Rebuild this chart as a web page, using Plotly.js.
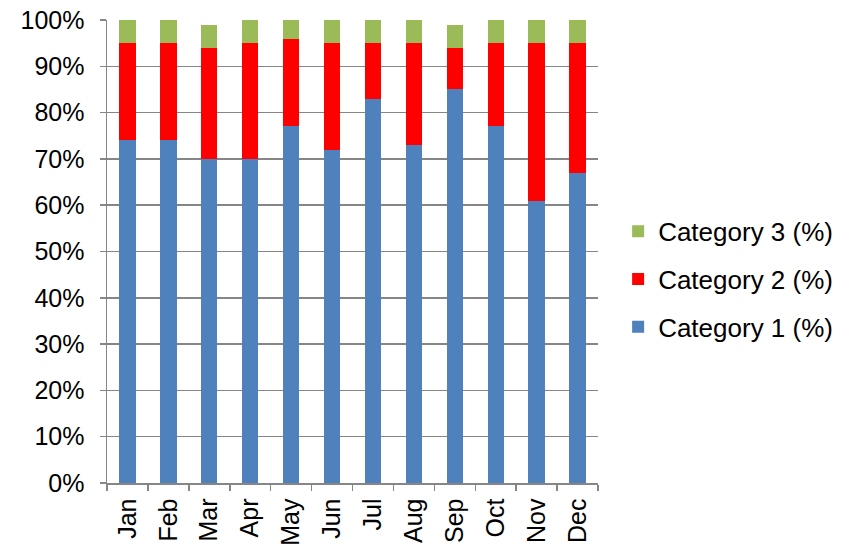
<!DOCTYPE html>
<html>
<head>
<meta charset="utf-8">
<script src="https://cdn.plot.ly/plotly-3.0.1.min.js"></script>
<style>html,body{margin:0;padding:0;background:#fff;}#chart{width:850px;height:549px;}</style>
</head>
<body>
<div id="chart"></div>
<script>
// Monthly share of three categories, stacked to 100%
const months = ["Jan","Feb","Mar","Apr","May","Jun","Jul","Aug","Sep","Oct","Nov","Dec"];
const category1 = [74, 74, 70, 70, 77, 72, 83, 73, 85, 77, 61, 67];
const category2 = [21, 21, 24, 25, 19, 23, 12, 22, 9, 18, 34, 28];
const category3 = [5, 5, 5, 5, 4, 5, 5, 5, 5, 5, 5, 5];
const seriesNames = ["Category 1 (%)", "Category 2 (%)", "Category 3 (%)"];
const seriesColors = ["#4f81bd", "#ff0000", "#9bbb59"];
const yTickVals = [0, 10, 20, 30, 40, 50, 60, 70, 80, 90, 100];
const yTickText = ["0%","10%","20%","30%","40%","50%","60%","70%","80%","90%","100%"];

const series = [category1, category2, category3];
// Legend lists the top segment first
const traces = series.map((vals, i) => ({
  type: "bar",
  x: months,
  y: vals,
  name: seriesNames[i],
  legendgroup: "g" + i,
  legendrank: 3 - i,
  marker: { color: seriesColors[i], line: { width: 0 } },
  hoverinfo: "x+y+name"
}));

const axisGrey = "#868686";

const layout = {
  width: 850,
  height: 549,
  margin: { l: 107, r: 252, t: 20, b: 66 },
  paper_bgcolor: "#ffffff",
  plot_bgcolor: "#ffffff",
  barmode: "stack",
  bargap: 0.6,
  font: { family: "Liberation Sans, Arial, sans-serif", size: 25, color: "#000" },
  xaxis: {
    type: "category",
    tickangle: -90,
    showline: true,
    linecolor: axisGrey,
    linewidth: 1.5,
    ticks: "outside",
    tickson: "boundaries",
    ticklen: 6,
    tickcolor: axisGrey,
    tickwidth: 1.5,
    ticklabelstandoff: 4,
    showgrid: false,
    tickfont: { size: 25, color: "#000" },
    fixedrange: true
  },
  yaxis: {
    range: [0, 100],
    tickvals: yTickVals,
    ticktext: yTickText,
    showline: true,
    linecolor: axisGrey,
    linewidth: 1.5,
    ticks: "outside",
    ticklen: 6,
    tickcolor: axisGrey,
    tickwidth: 1.5,
    ticklabelstandoff: 10,
    showgrid: true,
    gridcolor: axisGrey,
    gridwidth: 1.5,
    zeroline: false,
    tickfont: { size: 25, color: "#000" },
    fixedrange: true
  },
  legend: {
    x: 1.041,
    y: 0.44,
    xanchor: "left",
    yanchor: "middle",
    traceorder: "grouped",
    tracegroupgap: 11,
    font: { size: 26, color: "#000" },
    itemwidth: 30
  },
  showlegend: true
};

Plotly.newPlot("chart", traces, layout, { displayModeBar: false, staticPlot: true });
</script>
</body>
</html>
